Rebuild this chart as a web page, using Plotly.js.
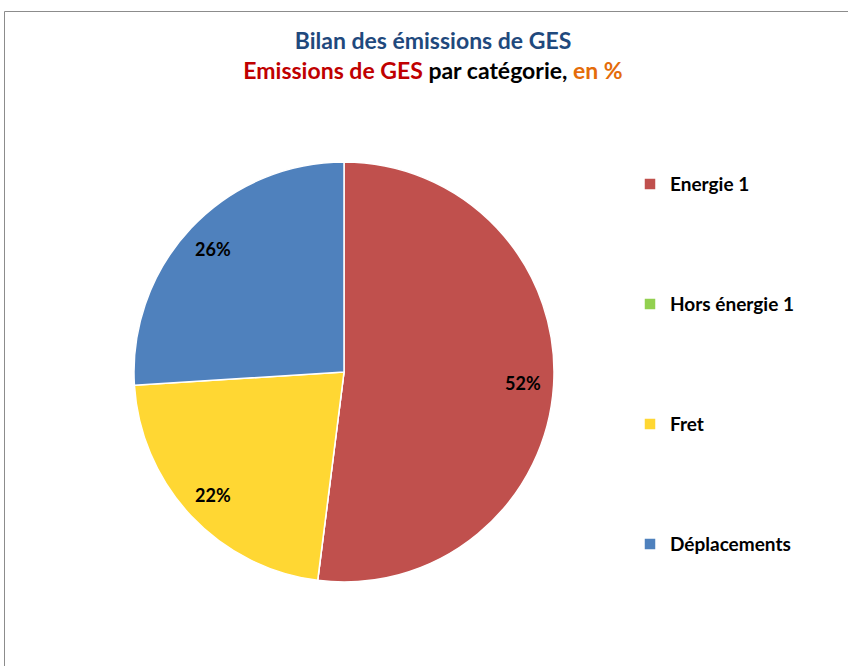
<!DOCTYPE html>
<html>
<head>
<meta charset="utf-8">
<script src="https://cdn.plot.ly/plotly-3.0.1.min.js"></script>
<style>html,body{margin:0;padding:0;background:#fff;}#chart{width:848px;height:666px;}</style>
</head>
<body>
<div id="chart"></div>
<script>
const categories = ["Energie 1", "Hors énergie 1", "Fret", "Déplacements"];
const values = [52, 0, 22, 26];
const colors = ["#C0504D", "#92D050", "#FFD733", "#4F81BD"];

const W = 848, H = 666;
const cx = 344, cy = 372, r = 210;

const pad = "&nbsp;<br>&nbsp;<br>";
const legendLabels = categories.map(c => pad + "<span style='font-size:19px'>" + c + "</span><br>&nbsp;<br>&nbsp;");

// percentage labels placed along each slice's mid-angle (computed from the data)
const total = values.reduce((a, b) => a + b, 0);
const annotations = [];
let cum = 0;
values.forEach((v, i) => {
  const mid = (cum + v / 2) / total * 2 * Math.PI;
  cum += v;
  if (v <= 0) return;
  const rr = 0.855 * r;
  annotations.push({
    xref: "paper", yref: "paper",
    x: (cx + rr * Math.sin(mid)) / W,
    y: 1 - (cy - rr * Math.cos(mid)) / H,
    text: Math.round(v / total * 100) + "%",
    showarrow: false,
    xanchor: "center", yanchor: "middle",
    font: {family: "Lato, sans-serif", size: 18, color: "#000000", weight: "bold"}
  });
});

const data = [{
  type: "pie",
  labels: legendLabels,
  values: values,
  sort: false,
  direction: "clockwise",
  rotation: 0,
  marker: {colors: colors, line: {color: "#FFFFFF", width: 1.5}},
  textinfo: "none",
  hoverinfo: "none",
  domain: {x: [(cx - r) / W, (cx + r) / W], y: [(H - cy - r) / H, (H - cy + r) / H]}
}];

const layout = {
  width: W, height: H,
  margin: {l: 0, r: 0, t: 0, b: 0},
  paper_bgcolor: "#FFFFFF",
  font: {family: "Lato, sans-serif", color: "#000000"},
  title: {
    text: "<span style='color:#1F497D'>Bilan des émissions de GES</span><br><span style='color:#C00000'>Emissions de GES</span> par catégorie, <span style='color:#E46C0A'>en %</span>",
    font: {family: "Lato, sans-serif", size: 23, weight: "bold", color: "#000000"},
    x: 433 / W, xanchor: "center",
    y: 1 - 49 / H, yanchor: "top"
  },
  showlegend: true,
  legend: {
    x: 630 / W, xanchor: "left",
    y: 1 - 119 / H, yanchor: "top",
    font: {family: "Lato, sans-serif", size: 18, color: "#000000", weight: "bold"},
    bgcolor: "rgba(0,0,0,0)",
    valign: "middle"
  },
  annotations: annotations,
  shapes: [{
    type: "rect", xref: "paper", yref: "paper",
    x0: 4.5 / W, x1: 1.05, y0: -0.05, y1: 1 - 11.5 / H,
    line: {color: "#8C8C8C", width: 1}, fillcolor: "rgba(0,0,0,0)"
  }]
};

Plotly.newPlot("chart", data, layout, {displayModeBar: false, staticPlot: true});
</script>
</body>
</html>
